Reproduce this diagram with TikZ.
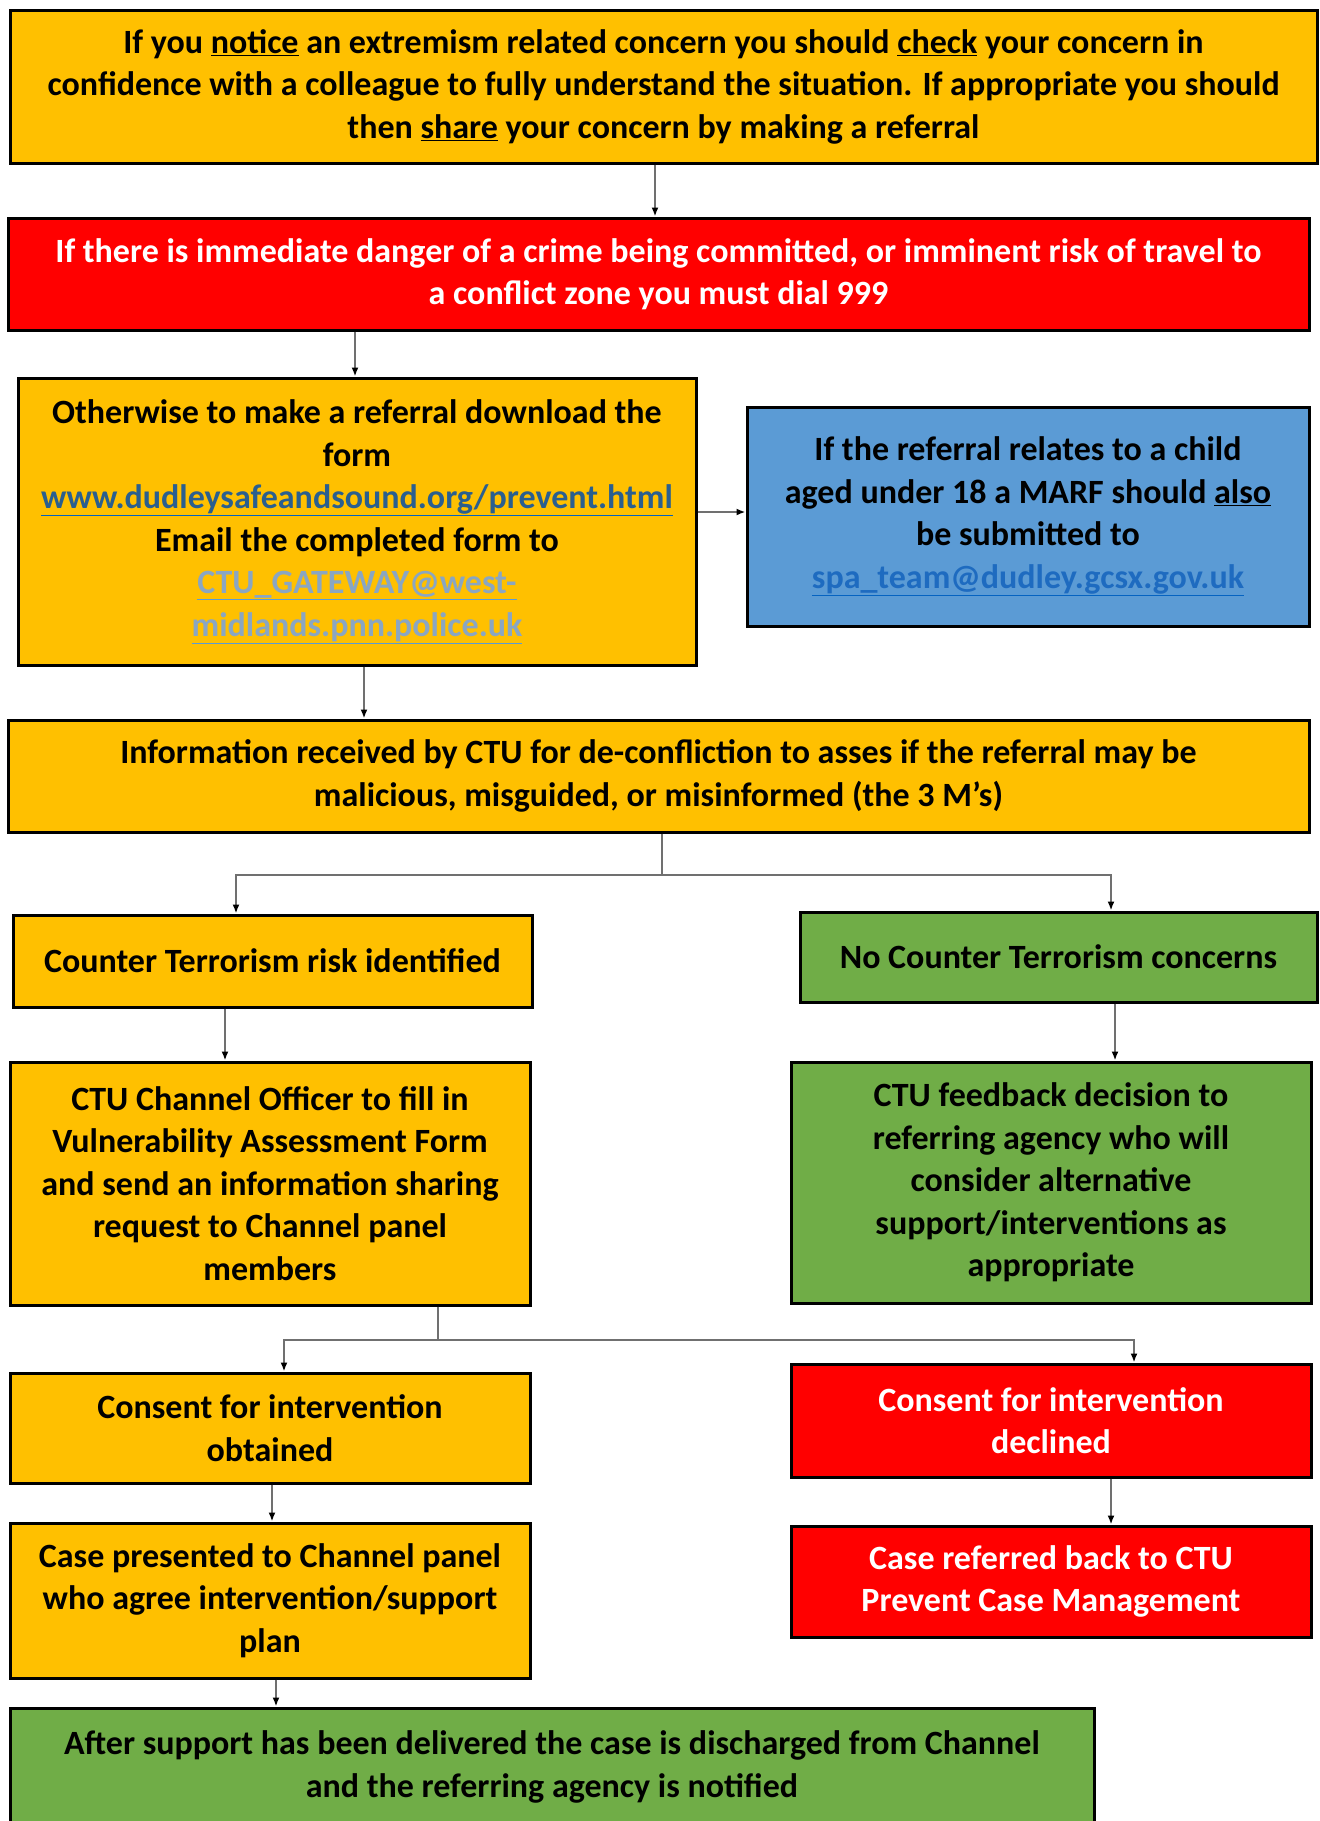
\documentclass[tikz,border=0pt]{standalone}
\usepackage{fontspec}
\setmainfont{Carlito}
\usetikzlibrary{arrows.meta}
\definecolor{yel}{HTML}{FFC000}
\definecolor{redb}{HTML}{FF0000}
\definecolor{blueb}{HTML}{5B9BD5}
\definecolor{greenb}{HTML}{70AD47}
\definecolor{lnk}{HTML}{0563C1}
\definecolor{lnktxt}{HTML}{2A5F8F}
\definecolor{lnklight}{HTML}{5B9BD5}
\definecolor{lnklighttxt}{HTML}{8AA6C2}
\definecolor{spatxt}{HTML}{1E6BC0}
\definecolor{linegray}{HTML}{707070}
\newcommand{\colul}[3]{{\color{#1}\underline{\textcolor{#2}{#3}}}}
\begin{document}
\begin{tikzpicture}[x=1pt,y=-1pt,
  box/.style={draw=black,line width=3pt,align=center,inner sep=0pt,
    font=\fontsize{34}{42.5}\selectfont\bfseries},
  conn/.style={draw=linegray,line width=2pt,-{Latex[length=9pt,width=7pt,color=black]}}]
\path[fill=white,use as bounding box] (0,0) rectangle (1320,1821);

\node[box,fill=yel,minimum width=1307pt,minimum height=153pt] (b1) at (663.5,86.5)
 {If you \underline{notice} an extremism related concern you should \underline{check} your concern in\\
  confidence with a colleague to fully understand the situation. If appropriate you should\\
  then \underline{share} your concern by making a referral};

\node[box,fill=redb,text=white,minimum width=1301pt,minimum height=112pt] (b2) at (658.5,274)
 {If there is immediate danger of a crime being committed, or imminent risk of travel to\\
  a conflict zone you must dial 999};

\node[box,fill=yel,minimum width=678pt,minimum height=287pt] (b3) at (357,521.5)
 {Otherwise to make a referral download the\\
  form\\
  \colul{lnk}{lnktxt}{www.dudleysafeandsound.org/prevent.html}\\
  Email the completed form to\\
  \colul{lnklight}{lnklighttxt}{CTU\_GATEWAY@west-}\\
  \colul{lnklight}{lnklighttxt}{midlands.pnn.police.uk}};

\node[box,fill=blueb,minimum width=562pt,minimum height=219pt] (b4) at (1028,516.5)
 {If the referral relates to a child\\
  aged under 18 a MARF should \underline{also}\\
  be submitted to\\
  \colul{lnk}{spatxt}{spa\_team@dudley.gcsx.gov.uk}};

\node[box,fill=yel,minimum width=1301pt,minimum height=112pt] (b5) at (658.5,776)
 {Information received by CTU for de-confliction to asses if the referral may be\\
  malicious, misguided, or misinformed (the 3 M's)};

\node[box,fill=yel,minimum width=519pt,minimum height=92pt] (b6) at (272.5,961)
 {Counter Terrorism risk identified};

\node[box,fill=greenb,minimum width=517pt,minimum height=90pt] (b7) at (1058.5,957)
 {No Counter Terrorism concerns};

\node[box,fill=yel,minimum width=520pt,minimum height=243pt] (b8) at (270,1183.5)
 {CTU Channel Officer to fill in\\
  Vulnerability Assessment Form\\
  and send an information sharing\\
  request to Channel panel\\
  members};

\node[box,fill=greenb,minimum width=520pt,minimum height=241pt] (b9) at (1051,1182.5)
 {CTU feedback decision to\\
  referring agency who will\\
  consider alternative\\
  support/interventions as\\
  appropriate};

\node[box,fill=yel,minimum width=520pt,minimum height=110pt] (b10) at (270,1428)
 {Consent for intervention\\
  obtained};

\node[box,fill=redb,text=white,minimum width=520pt,minimum height=113pt] (b11) at (1051,1420.5)
 {Consent for intervention\\
  declined};

\node[box,fill=yel,minimum width=520pt,minimum height=155pt] (b12) at (270,1600.5)
 {Case presented to Channel panel\\
  who agree intervention/support\\
  plan};

\node[box,fill=redb,text=white,minimum width=520pt,minimum height=111pt] (b13) at (1051,1581.5)
 {Case referred back to CTU\\
  Prevent Case Management};

\node[box,fill=greenb,minimum width=1084pt,minimum height=118pt] (b14) at (552,1767)
 {After support has been delivered the case is discharged from Channel\\
  and the referring agency is notified};

% connector helper coordinates
\coordinate (x12) at (655,0);
\coordinate (x23) at (355,0);
\coordinate (x35) at (364,0);
\coordinate (y34) at (0,512);
\coordinate (x5s) at (662,0);
\coordinate (y5b) at (0,875);
\coordinate (x6) at (236,0);
\coordinate (x7) at (1111,0);
\coordinate (x68) at (225,0);
\coordinate (x79) at (1115,0);
\coordinate (x8s) at (438,0);
\coordinate (y8b) at (0,1340);
\coordinate (x10) at (284,0);
\coordinate (x11) at (1134,0);
\coordinate (x1012) at (272,0);
\coordinate (x1113) at (1111,0);
\coordinate (x1214) at (276,0);

\draw[conn] (b1.south -| x12) -- (b2.north -| x12);
\draw[conn] (b2.south -| x23) -- (b3.north -| x23);
\draw[conn] (b3.east |- y34) -- (b4.west |- y34);
\draw[conn] (b3.south -| x35) -- (b5.north -| x35);
\draw[conn] (b5.south -| x5s) -- (x5s |- y5b) -| (b6.north -| x6);
\draw[conn] (x5s |- y5b) -| (b7.north -| x7);
\draw[conn] (b6.south -| x68) -- (b8.north -| x68);
\draw[conn] (b7.south -| x79) -- (b9.north -| x79);
\draw[conn] (b8.south -| x8s) -- (x8s |- y8b) -| (b10.north -| x10);
\draw[conn] (x8s |- y8b) -| (b11.north -| x11);
\draw[conn] (b10.south -| x1012) -- (b12.north -| x1012);
\draw[conn] (b11.south -| x1113) -- (b13.north -| x1113);
\draw[conn] (b12.south -| x1214) -- (b14.north -| x1214);
\end{tikzpicture}
\end{document}
